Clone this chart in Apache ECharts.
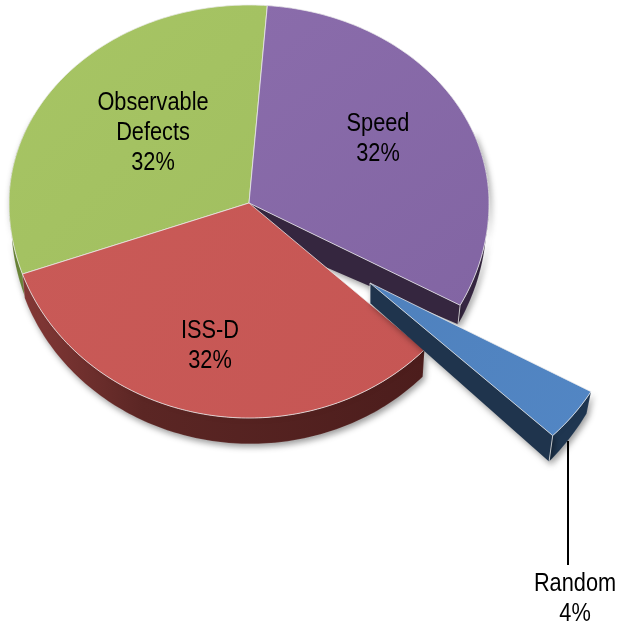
<!DOCTYPE html>
<html>
<head>
<meta charset="utf-8">
<style>html,body{margin:0;padding:0;background:#fff}#c{width:620px;height:626px}</style>
<script src="https://cdn.jsdelivr.net/npm/echarts@6/dist/echarts.min.js"></script>
</head>
<body>
<div id="c"></div>
<script>
// ---- data (clockwise from the top) ----
const categories = ['Speed', 'Random', 'ISS-D', 'Observable Defects'];
const labelLines = [['Speed'], ['Random'], ['ISS-D'], ['Observable', 'Defects']];
const values = [32, 4, 32, 32];

// ---- layout and styling ----
const CX = 249, CY = 203, RX = 240, R_BACK = 198, R_FRONT = 215;
const START_DEG = 4.5;
const BOTTOM_X_SCALE = 0.99;
const WARP_DEG = 1.5;          // slight angular distortion from the 3D perspective
const WALL_FROM = 70, WALL_TO = 295;
const LEADER = { x: 568, y1: 441, y2: 565 };
const LINE_H = 30;
const looks = [
  { top: ['#8A6CAB', '#8265A3'], wall: [[0, '#3B2A47'], [1, '#2F2239']], cut: '#35263F', z: 20,
    d0: 9, d1: 19, dc: 31, label: [378, 124.5] },
  { top: ['#4F81BD', '#5286C4'], wall: [[0, '#1F3650'], [1, '#1F3650']], cut: '#1F344D', z: 40, noWarp: true,
    d0: 22, d1: 26, dc: 20, dx: 121, dy: 80, sx: 1.06, sy: 1.02, bottomX: 0.98, label: [575, 584] },
  { top: ['#C95A57', '#C65654'], wall: [[0, '#843937'], [0.3, '#5B2624'], [1, '#4C1D1C']], cut: '#4A1C1B', z: 30,
    d0: 27, d1: 24, dc: 25, label: [210, 331.5] },
  { top: ['#A7C564', '#A1BF60'], wall: [[0, '#5F7A30'], [1, '#7E9A45']], cut: '#5F7A30', z: 10,
    d0: 22, d1: 14, dc: 20, label: [153, 103] }
];

const total = values.reduce((a, b) => a + b, 0);
const chart = echarts.init(document.getElementById('c'), null, { renderer: 'canvas' });

function geometry(i) {
  let before = 0;
  for (let k = 0; k < i; k++) before += values[k];
  const a0 = START_DEG + before / total * 360;
  const a1 = a0 + values[i] / total * 360;
  const L = looks[i];
  const ox = CX + (L.dx || 0), oy = CY + (L.dy || 0);
  const sx = L.sx || 1, sy = L.sy || 1;
  const bx = L.bottomX || BOTTOM_X_SCALE;
  const topArc = [], botArc = [], wallTop = [], wallBot = [];
  const n = Math.max(8, Math.ceil(a1 - a0));
  for (let k = 0; k <= n; k++) {
    const t = k / n;
    const deg = a0 + (a1 - a0) * t;
    const warped = L.noWarp ? deg : deg - WARP_DEG * Math.sin(deg * Math.PI / 180);
    const th = warped * Math.PI / 180;
    const c = Math.cos(th), s = Math.sin(th);
    const x = RX * sx * s;
    const y = (c > 0 ? -R_BACK : -R_FRONT) * sy * c;
    const top = [ox + x, oy + y];
    const bot = [ox + x * bx, oy + y + L.d0 + (L.d1 - L.d0) * t];
    topArc.push(top);
    botArc.push(bot);
    if (deg >= WALL_FROM && deg <= WALL_TO) { wallTop.push(top); wallBot.push(bot); }
  }
  return { ox, oy, topArc, botArc, wallTop, wallBot, L };
}

const edge = { stroke: 'rgba(235,235,235,0.75)', lineWidth: 1 };
const shadow = { shadowBlur: 6, shadowColor: 'rgba(0,0,0,0.4)', shadowOffsetX: 2, shadowOffsetY: 3 };

function renderSlice(params, api) {
  const i = params.dataIndex;
  const { ox, oy, topArc, botArc, wallTop, wallBot, L } = geometry(i);
  const last = topArc[topArc.length - 1];
  const lastB = botArc[botArc.length - 1];
  const apexB = [ox, oy + L.dc];
  const children = [];

  // outer rim wall
  children.push({
    type: 'polygon', z2: L.z,
    shape: { points: wallTop.concat(wallBot.slice().reverse()) },
    style: Object.assign({
      fill: new echarts.graphic.LinearGradient(0, 0, 1, 0,
        L.wall.map(s => ({ offset: s[0], color: s[1] }))),
      stroke: 'rgba(235,235,235,0.25)', lineWidth: 0.5
    }, shadow)
  });
  // side cut walls that face the viewer
  if (categories[i] === 'Speed' || categories[i] === 'Random') {
    children.push({
      type: 'polygon', z2: L.z,
      shape: { points: [[ox, oy], last, lastB, apexB] },
      style: Object.assign({ fill: L.cut }, shadow)
    });
    children.push({ type: 'line', z2: L.z + 1,
      shape: { x1: last[0], y1: last[1], x2: lastB[0], y2: lastB[1] }, style: edge });
  }
  if (categories[i] === 'Random') {
    children.push({ type: 'line', z2: L.z + 1,
      shape: { x1: ox, y1: oy, x2: apexB[0], y2: apexB[1] }, style: edge });
  }
  // top face
  children.push({
    type: 'polygon', z2: L.z + 2,
    shape: { points: [[ox, oy]].concat(topArc) },
    style: Object.assign({
      fill: new echarts.graphic.LinearGradient(0, 0, 1, 1, [
        { offset: 0, color: L.top[0] }, { offset: 1, color: L.top[1] }
      ])
    }, edge)
  });
  // label
  const lines = labelLines[i].concat([api.value(0) + '%']);
  lines.forEach((txt, k) => {
    children.push({
      type: 'text', z2: 100,
      x: L.label[0], y: L.label[1] + k * LINE_H, scaleX: 0.87,
      style: {
        x: 0, y: 0, text: txt, textAlign: 'center', textVerticalAlign: 'middle',
        fill: '#000', font: '25px "Liberation Sans", Arial, sans-serif'
      }
    });
  });
  if (categories[i] === 'Random') {
    children.push({
      type: 'line', z2: 90,
      shape: { x1: LEADER.x, y1: LEADER.y1, x2: LEADER.x, y2: LEADER.y2 },
      style: { stroke: '#000', lineWidth: 2 }
    });
  }
  return { type: 'group', children };
}

chart.setOption({
  backgroundColor: '#fff',
  animation: false,
  series: [{
    type: 'custom',
    coordinateSystem: 'none',
    renderItem: renderSlice,
    data: values.map((v, i) => ({ name: categories[i], value: [v] }))
  }]
});
</script>
</body>
</html>
